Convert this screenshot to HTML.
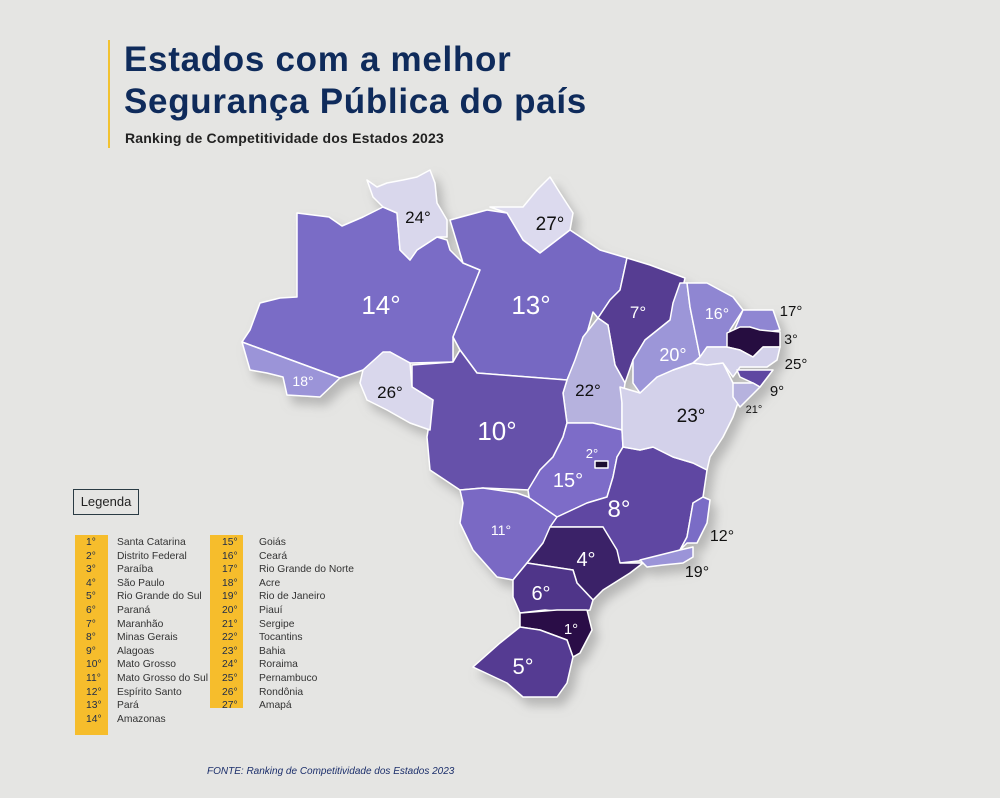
<!DOCTYPE html>
<html><head><meta charset="utf-8"><style>
body{margin:0;width:1000px;height:798px;background:#e5e5e3;overflow:hidden;font-family:"Liberation Sans",sans-serif;position:relative}
.t{position:absolute;left:124px;color:#0f2b5b;font-weight:bold;font-size:35px;letter-spacing:0.7px}
.lg{position:absolute;font-size:10.3px;color:#333;line-height:13.6px}
</style></head><body>
<div style="position:absolute;left:108px;top:40px;width:2px;height:108px;background:#f2c230"></div>
<div class="t" style="top:40px">Estados com a melhor</div>
<div class="t" style="top:82px">Segurança Pública do país</div>
<div style="position:absolute;left:125px;top:130px;font-size:14px;font-weight:bold;color:#222;letter-spacing:0.2px">Ranking de Competitividade dos Estados 2023</div>

<svg width="1000" height="798" style="position:absolute;left:0;top:0">
<defs><filter id="sh" x="-10%" y="-10%" width="130%" height="130%"><feDropShadow dx="6" dy="8" stdDeviation="5" flood-color="#888" flood-opacity="0.5"/></filter></defs>
<g filter="url(#sh)" stroke="#fff" stroke-width="1.5" stroke-linejoin="round">
<polygon fill="#7a6cc6" points="297,213 329,217 342,226 363,217 383,207 397,213 400,250 410,260 417,250 437,237 447,240 450,250 463,263 480,270 453,337 453,362 410,363 390,352 363,370 340,378 242,342 250,330 260,303 280,298 297,297 297,228"/>
<polygon fill="#9b94d8" points="242,342 340,378 320,397 287,395 283,377 267,373 250,370"/>
<polygon fill="#d9d7ec" points="367,180 377,187 387,183 403,180 417,177 430,170 435,183 437,203 447,220 447,237 437,237 417,250 410,260 400,250 397,213 383,207 373,197"/>
<polygon fill="#dcdaee" points="490,207 507,207 523,207 537,190 550,177 560,193 573,213 570,230 550,247 540,253 523,240 507,213"/>
<polygon fill="#7668c2" points="450,220 487,210 507,213 523,240 540,253 570,230 600,250 627,258 620,290 610,300 598,318 593,312 585,340 567,380 477,373 460,350 453,337 480,270 463,263"/>
<polygon fill="#563c92" points="627,258 650,265 685,278 680,300 670,320 645,340 633,360 625,383 615,365 608,325 598,318 610,300 620,290"/>
<polygon fill="#b6b2de" points="598,318 583,337 575,360 567,380 563,393 567,423 593,423 622,430 622,403 625,383 615,365 608,325"/>
<polygon fill="#6651aa" points="412,365 453,362 460,350 477,373 567,380 563,393 567,423 563,437 553,457 540,470 530,490 483,488 460,490 445,480 430,470 427,437 433,400 412,387"/>
<polygon fill="#d9d7ec" points="363,370 383,352 390,352 410,363 412,387 433,400 430,430 410,423 387,410 367,400 360,383"/>
<polygon fill="#7d6cc8" points="567,423 593,423 622,430 623,447 617,457 613,477 607,497 587,503 557,517 530,503 528,490 540,470 553,457 563,437"/>
<polygon fill="#7a69c4" points="460,490 483,488 517,493 528,497 557,517 558,523 543,543 527,563 513,580 497,577 473,550 460,523 463,503"/>
<polygon fill="#5e46a2" points="557,517 587,503 607,497 613,477 617,457 623,447 640,450 653,447 673,457 693,463 707,470 703,497 693,503 687,537 680,550 663,557 647,560 620,563 603,527 550,527"/>
<polygon fill="#7a6cc6" points="693,503 703,497 710,500 707,523 697,543 687,543 680,550 687,537"/>
<polygon fill="#9b94d8" points="640,560 680,550 693,547 693,557 683,563 663,565 647,567"/>
<polygon fill="#3b2168" points="550,527 603,527 617,550 620,563 643,563 630,573 603,590 593,600 577,583 573,570 527,563 543,543"/>
<polygon fill="#4f3589" points="527,563 573,570 577,583 593,600 590,610 575,613 545,610 520,613 513,597 513,580"/>
<polygon fill="#2b1047" points="520,613 557,610 587,610 592,630 580,653 573,657 567,640 540,630 520,627"/>
<polygon fill="#553a92" points="520,627 540,630 567,640 573,657 567,683 557,697 523,697 507,683 473,667 500,643"/>
<polygon fill="#d3d1ea" points="622,403 620,387 640,393 657,377 673,370 693,363 707,365 723,363 733,383 740,397 733,417 723,437 710,457 707,470 693,463 673,457 653,447 640,450 623,447 622,430"/>
<polygon fill="#9c96d8" points="670,320 673,303 680,283 687,283 690,307 700,357 693,363 673,370 657,377 640,393 633,383 633,360 645,340"/>
<polygon fill="#8f86d2" points="687,283 707,283 733,297 743,310 730,330 727,347 707,347 700,357 690,307"/>
<polygon fill="#8f86d2" points="743,310 773,310 780,330 760,333 750,327 733,333"/>
<polygon fill="#250c3f" points="727,333 740,327 750,327 760,330 780,332 780,347 763,347 753,357 740,350 727,347"/>
<polygon fill="#d3d1ea" points="727,347 740,350 753,357 763,347 780,347 777,360 767,367 740,367 733,377 723,363 707,365 693,363 700,357 707,347"/>
<polygon fill="#5e46a2" points="737,370 773,370 760,387 753,383 740,377"/>
<polygon fill="#b6b2de" points="733,383 753,383 760,387 740,407 733,397"/>
<rect x="595" y="461" width="13" height="7" fill="#1a0830" stroke="#fff"/>
</g>
<g font-family="Liberation Sans,sans-serif" text-anchor="middle">
<g fill="#fff">
<text x="381" y="314" font-size="26">14°</text><text x="531" y="314" font-size="26">13°</text>
<text x="497" y="440" font-size="26">10°</text><text x="619" y="517" font-size="24">8°</text>
<text x="523" y="674" font-size="22">5°</text><text x="541" y="600" font-size="20">6°</text>
<text x="586" y="566" font-size="20">4°</text><text x="571" y="634" font-size="15">1°</text>
<text x="638" y="318" font-size="17">7°</text><text x="717" y="319" font-size="16">16°</text>
<text x="673" y="361" font-size="18">20°</text><text x="568" y="487" font-size="20">15°</text>
<text x="592" y="458" font-size="13">2°</text><text x="501" y="535" font-size="14">11°</text>
<text x="303" y="386" font-size="14">18°</text>
</g>
<g fill="#111">
<text x="588" y="396" font-size="17">22°</text><text x="691" y="422" font-size="19">23°</text>
<text x="390" y="398" font-size="17">26°</text><text x="418" y="223" font-size="17">24°</text>
<text x="550" y="230" font-size="19">27°</text><text x="791" y="316" font-size="15">17°</text>
<text x="791" y="344" font-size="14">3°</text><text x="796" y="369" font-size="15">25°</text>
<text x="777" y="396" font-size="15">9°</text><text x="754" y="413" font-size="11">21°</text>
<text x="722" y="541" font-size="16">12°</text><text x="697" y="577" font-size="16">19°</text>
</g></g>
</svg>

<div style="position:absolute;left:73px;top:489px;width:66px;height:26px;border:1.5px solid #2a3b44;box-sizing:border-box;font-size:13px;color:#222;text-align:center;line-height:23px">Legenda</div>
<div style="position:absolute;left:75px;top:535px;width:33px;height:200px;background:#f6bd2c"></div>
<div style="position:absolute;left:210px;top:535px;width:33px;height:173px;background:#f6bd2c"></div>
<div class="lg" style="left:86px;top:536px;color:#1c2a4a">1°<br>2°<br>3°<br>4°<br>5°<br>6°<br>7°<br>8°<br>9°<br>10°<br>11°<br>12°<br>13°<br>14°</div>
<div class="lg" style="left:117px;top:536px">Santa Catarina<br>Distrito Federal<br>Paraíba<br>São Paulo<br>Rio Grande do Sul<br>Paraná<br>Maranhão<br>Minas Gerais<br>Alagoas<br>Mato Grosso<br>Mato Grosso do Sul<br>Espírito Santo<br>Pará<br>Amazonas</div>
<div class="lg" style="left:222px;top:536px;color:#1c2a4a">15°<br>16°<br>17°<br>18°<br>19°<br>20°<br>21°<br>22°<br>23°<br>24°<br>25°<br>26°<br>27°</div>
<div class="lg" style="left:259px;top:536px">Goiás<br>Ceará<br>Rio Grande do Norte<br>Acre<br>Rio de Janeiro<br>Piauí<br>Sergipe<br>Tocantins<br>Bahia<br>Roraima<br>Pernambuco<br>Rondônia<br>Amapá</div>
<div style="position:absolute;left:207px;top:766px;font-size:10px;font-style:italic;color:#1c2f6b">FONTE: Ranking de Competitividade dos Estados 2023</div>
</body></html>
